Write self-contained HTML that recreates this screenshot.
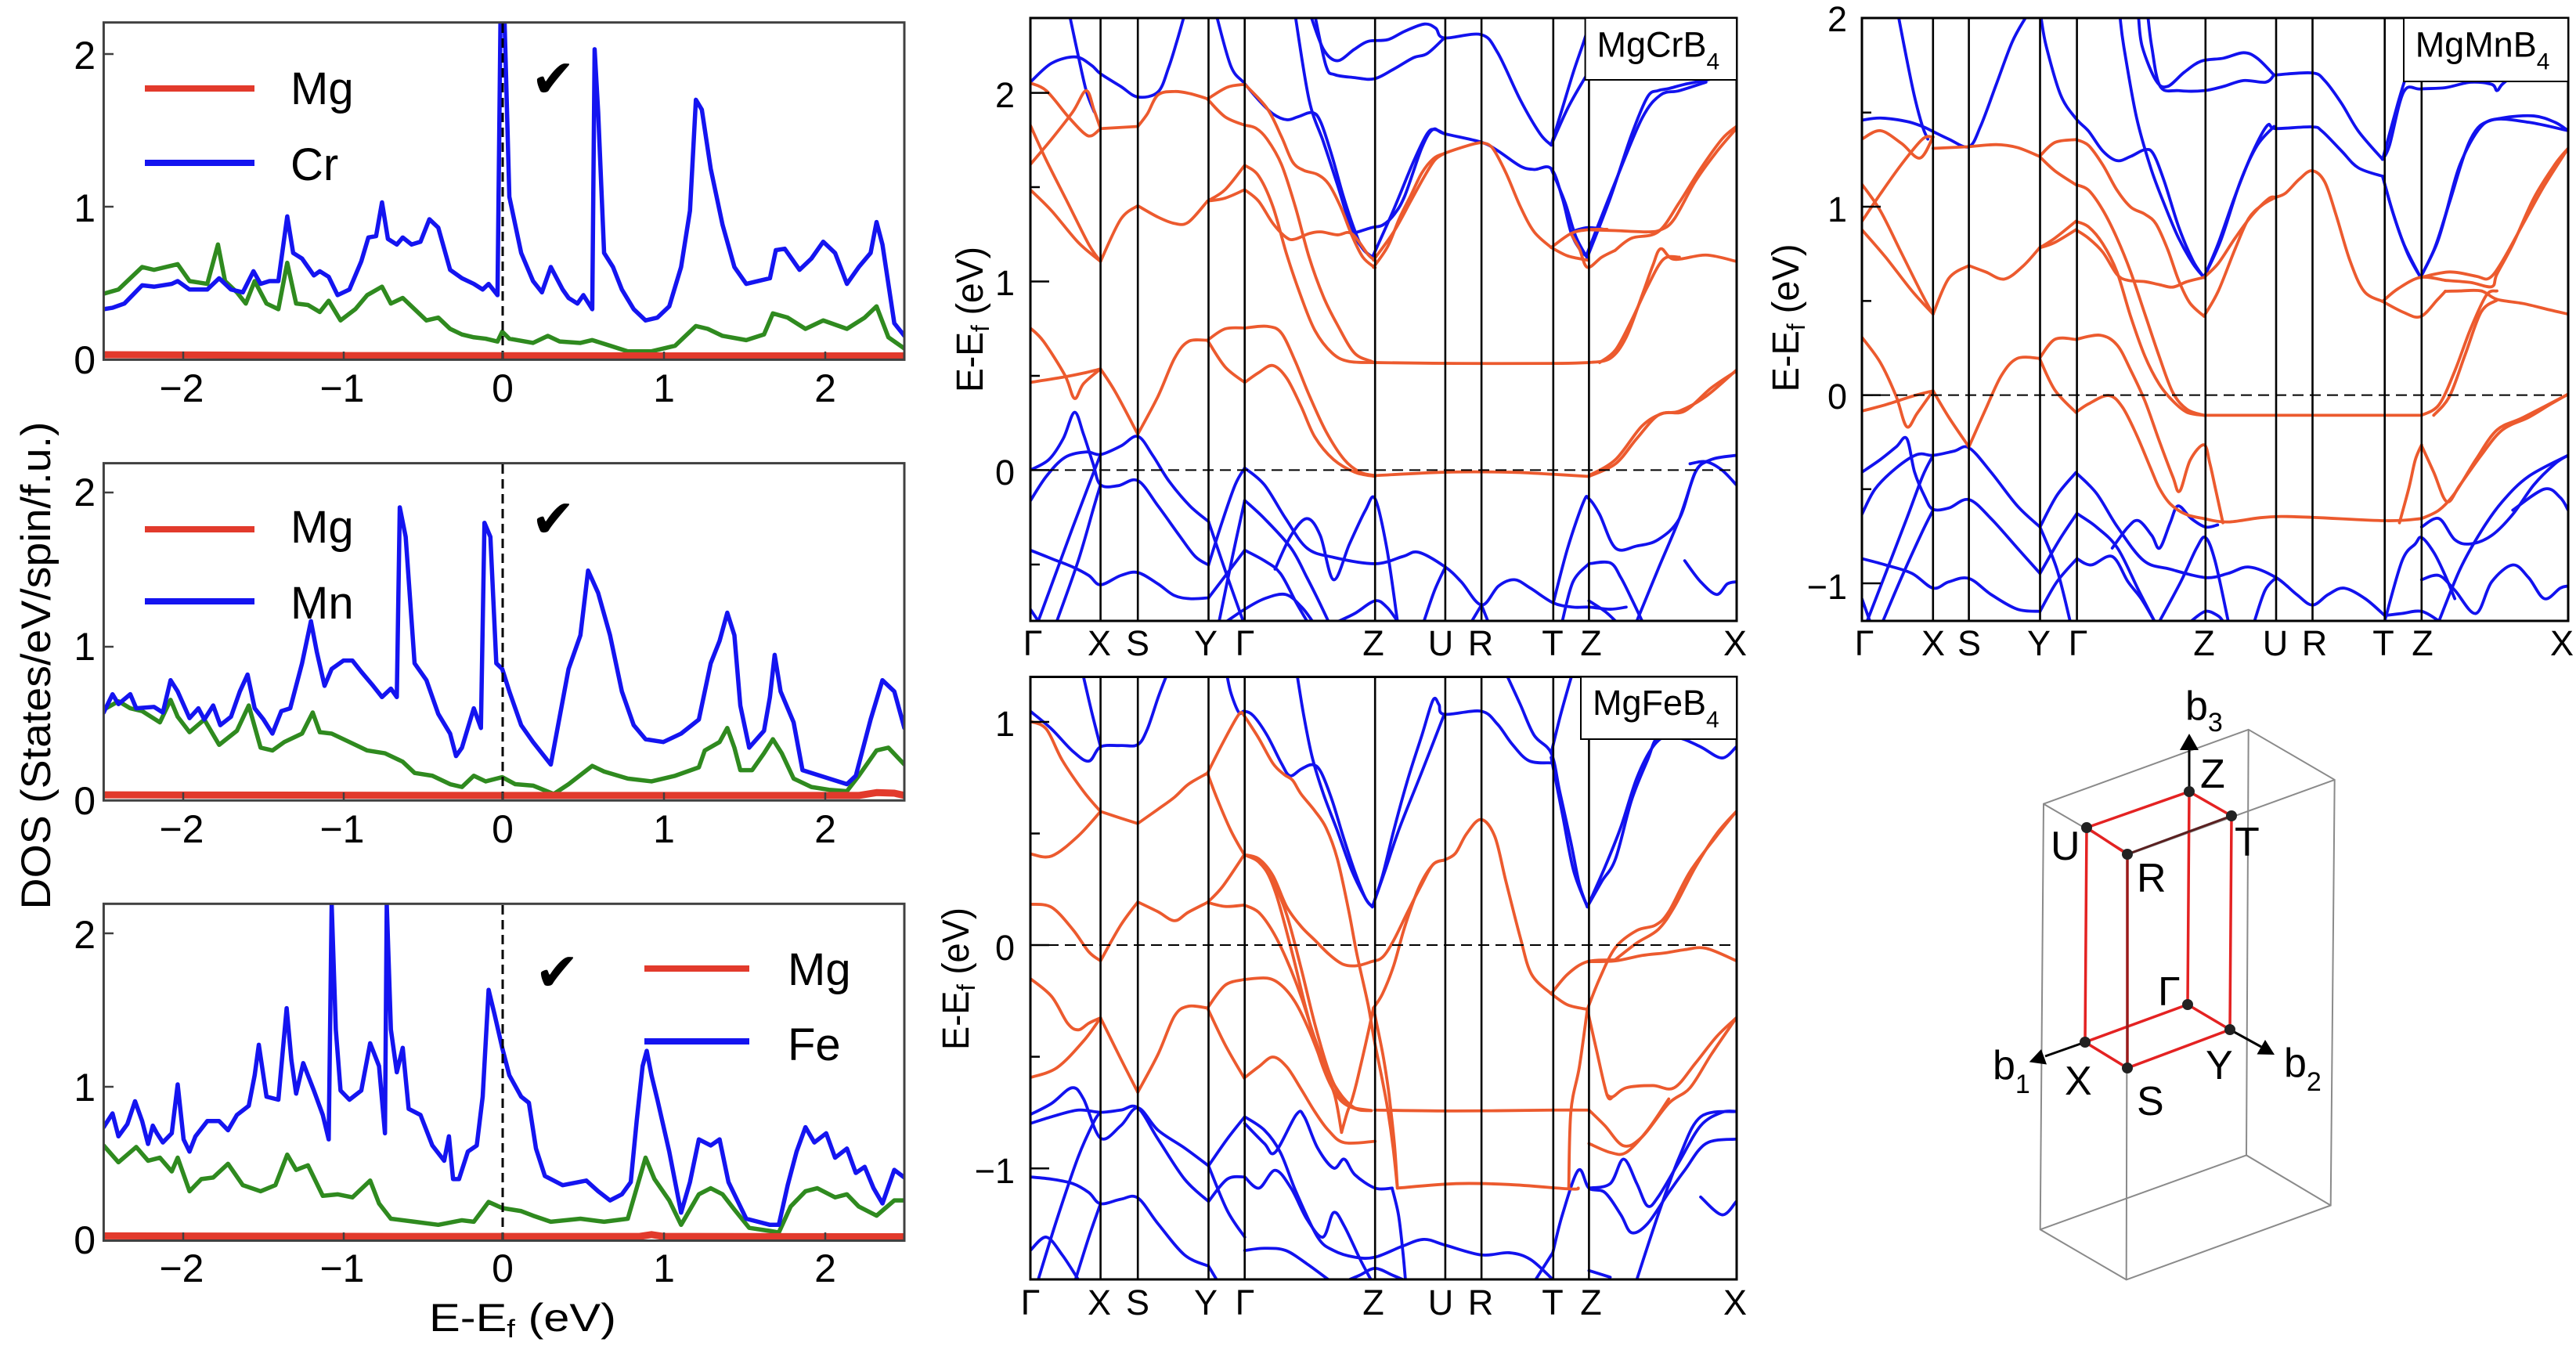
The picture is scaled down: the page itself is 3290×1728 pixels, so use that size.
<!DOCTYPE html>
<html><head><meta charset="utf-8">
<style>
html,body{margin:0;padding:0;background:#fff;width:3290px;height:1728px;overflow:hidden}
svg{position:absolute;overflow:hidden}
.z polyline,.z path{fill:none;vector-effect:non-scaling-stroke;stroke-linejoin:round;stroke-linecap:round}
text{font-family:"Liberation Sans",Arial,sans-serif;fill:#000}
</style></head><body>

<!-- DOS Cr -->
<svg class="z" style="left:0;top:0" width="1180" height="560" viewBox="0 0 1560 1560" preserveAspectRatio="none">
<defs><clipPath id="c1"><rect x="175" y="80" width="1352" height="1200"/></clipPath></defs>
<g clip-path="url(#c1)">
<polyline stroke="#2f8a1f" stroke-width="5.5" points="175,1045 200,1030 240,950 260,960 300,940 320,1000 350,1010 368,870 380,1000 400,1040 415,1080 430,1000 450,1080 470,1100 485,935 500,1080 520,1085 540,1110 555,1070 575,1140 600,1100 620,1050 645,1020 660,1080 680,1060 700,1100 720,1140 740,1130 760,1170 780,1190 800,1200 820,1205 840,1215 848,1180 860,1205 900,1220 925,1195 945,1215 980,1220 1000,1210 1030,1230 1060,1250 1100,1250 1140,1230 1175,1160 1195,1170 1220,1195 1260,1210 1290,1190 1305,1115 1330,1130 1360,1170 1390,1140 1430,1170 1460,1130 1480,1090 1500,1200 1527,1240"/>
<polyline stroke="#1414f0" stroke-width="5.5" points="175,1100 190,1095 210,1080 240,1015 260,1020 290,1010 300,1000 320,1030 350,1030 370,990 390,1030 410,1040 428,965 440,1010 455,1000 470,1000 485,770 495,900 510,920 530,980 540,965 555,985 570,1050 590,1030 610,930 622,845 635,840 645,720 655,850 670,870 680,845 695,870 710,860 725,780 740,810 760,960 780,990 800,1010 815,1030 825,1010 840,1050 845,80 852,80 860,700 870,800 880,900 900,1000 915,1040 930,950 950,1030 960,1060 975,1080 985,1050 1000,1100 1004,175 1010,400 1020,900 1035,950 1050,1030 1070,1100 1090,1140 1110,1130 1130,1090 1150,950 1165,750 1175,355 1185,390 1200,600 1220,800 1240,950 1260,1010 1280,1000 1300,990 1310,890 1325,885 1350,960 1370,920 1390,860 1410,900 1430,1010 1450,950 1470,900 1480,790 1490,870 1510,1150 1527,1195"/>
<polyline stroke="#e23a2c" stroke-width="9" points="175,1262 600,1265 1100,1266 1527,1266"/>
</g></svg>

<!-- DOS Mn -->
<svg class="z" style="left:0;top:560px" width="1180" height="560" viewBox="0 0 1560 1560" preserveAspectRatio="none">
<defs><clipPath id="c2"><rect x="175" y="88" width="1352" height="1200"/></clipPath></defs>
<g clip-path="url(#c2)">
<polyline stroke="#2f8a1f" stroke-width="5.5" points="175,965 200,935 220,960 240,970 270,1010 288,930 300,990 320,1045 345,1000 370,1090 400,1040 420,950 440,1100 460,1110 480,1080 510,1050 528,975 540,1045 560,1050 590,1080 620,1110 650,1120 680,1150 700,1190 730,1200 760,1230 780,1240 800,1200 820,1220 848,1205 870,1230 900,1235 935,1265 960,1230 1000,1165 1020,1185 1060,1210 1100,1220 1140,1200 1180,1170 1190,1110 1215,1080 1228,1030 1240,1100 1250,1180 1270,1180 1290,1120 1305,1070 1320,1120 1340,1210 1370,1240 1400,1250 1430,1255 1450,1200 1480,1110 1500,1100 1527,1160"/>
<polyline stroke="#1414f0" stroke-width="5.5" points="175,975 190,910 200,945 220,910 230,960 260,955 275,975 288,860 300,900 320,995 335,960 345,1000 360,950 372,1020 390,990 405,900 418,840 430,960 445,1000 460,1050 475,970 490,960 510,800 525,650 535,760 548,880 560,820 580,790 595,790 610,830 630,880 645,920 660,890 670,920 675,245 685,350 700,800 720,860 740,980 760,1050 770,1130 780,1100 800,960 812,1030 818,300 828,350 838,800 848,820 860,900 880,1020 900,1080 930,1160 960,820 980,700 993,470 1010,550 1030,700 1050,900 1070,1020 1090,1070 1120,1080 1150,1050 1180,1000 1200,800 1215,720 1228,620 1240,700 1250,950 1265,1100 1290,1040 1300,920 1308,770 1318,900 1340,1010 1355,1180 1400,1210 1430,1230 1445,1200 1470,1000 1490,860 1510,900 1527,1030"/>
<polyline stroke="#e23a2c" stroke-width="9" points="175,1268 800,1270 1200,1270 1450,1270 1480,1260 1510,1262 1527,1270"/>
</g></svg>

<!-- DOS Fe -->
<svg class="z" style="left:0;top:1120px" width="1180" height="608" viewBox="0 0 1560 1560" preserveAspectRatio="none">
<defs><clipPath id="c3"><rect x="175" y="88" width="1352" height="1104"/></clipPath></defs>
<g clip-path="url(#c3)">
<polyline stroke="#2f8a1f" stroke-width="5.5" points="175,880 200,935 230,885 250,930 270,920 290,965 300,920 320,1030 340,990 360,985 385,940 410,1010 440,1030 465,1010 485,910 500,960 520,945 545,1045 570,1040 595,1050 625,995 640,1070 660,1120 700,1130 740,1140 780,1125 800,1130 825,1065 848,1085 880,1095 900,1110 930,1130 980,1120 1020,1130 1060,1120 1075,1020 1090,920 1105,990 1130,1060 1150,1140 1180,1040 1200,1020 1220,1040 1240,1090 1265,1150 1300,1160 1315,1165 1335,1080 1360,1030 1380,1020 1410,1050 1430,1040 1450,1080 1480,1110 1510,1060 1527,1060"/>
<polyline stroke="#1414f0" stroke-width="5.5" points="175,820 190,775 200,850 215,810 228,735 240,800 250,875 258,815 265,840 275,870 290,840 300,680 310,860 320,900 330,850 350,800 370,800 385,830 400,780 420,750 430,650 437,550 450,720 470,730 484,430 492,600 500,710 512,610 530,700 545,780 555,860 560,88 567,500 575,700 590,730 610,700 625,545 640,620 650,840 653,88 660,500 670,640 680,560 690,760 710,780 730,880 750,930 758,850 765,990 775,990 790,900 805,880 815,720 825,370 835,450 848,560 860,650 880,720 893,740 905,890 920,980 950,1010 990,995 1010,1030 1030,1060 1050,1040 1065,1000 1075,800 1085,620 1092,570 1100,650 1110,730 1130,900 1150,1100 1165,1000 1180,860 1200,880 1215,860 1230,1000 1260,1120 1300,1140 1315,1140 1330,1010 1345,900 1360,820 1375,870 1395,840 1410,920 1430,890 1445,970 1460,950 1475,1020 1490,1070 1510,960 1527,985"/>
<polyline stroke="#e23a2c" stroke-width="9" points="175,1176 700,1178 1080,1178 1100,1172 1120,1178 1527,1179"/>
</g></svg>

<!-- MgCrB4 bands -->
<svg class="z band" style="left:1180px;top:0" width="1060" height="840" viewBox="0 0 1560 1560" preserveAspectRatio="none">
<defs><clipPath id="c4"><rect x="200" y="43" width="1327" height="1430"/></clipPath></defs>
<g clip-path="url(#c4)">
<g stroke="#1212ee" stroke-width="3.8">
<polyline points="200,195 240,150 285,135 315,155 332,175 370,205 402,230 440,218 460,160 475,100 488,43"/>
<polyline points="275,43 288,120 305,215 320,265"/>
<polyline points="200,1115 235,1090 262,1040 283,978 300,1030 318,1100 332,1150 365,1152 402,1140 440,1200 480,1270 510,1320 535,1340"/>
<polyline points="200,1188 230,1130 265,1085 305,1072 332,1078 370,1058 402,1035 430,1080 460,1140 500,1200 535,1237"/>
<polyline points="200,1305 240,1325 280,1345 310,1365 332,1387 370,1365 402,1358 440,1385 470,1412 500,1420 535,1418"/>
<polyline points="215,1473 245,1370 280,1250 310,1150 332,1078"/>
<polyline points="250,1473 290,1330 320,1200 332,1150"/>
<polyline points="200,1445 215,1473"/>
<polyline points="535,1340 560,1240 585,1150 603,1110"/>
<polyline points="535,1237 560,1330 585,1420 600,1473"/>
<polyline points="555,1473 580,1320 603,1187"/>
<polyline points="535,1418 570,1360 603,1305"/>
<polyline points="570,1473 603,1445 640,1420 680,1410 710,1440 730,1473"/>
<polyline points="603,1110 640,1150 680,1230 720,1300 770,1322 848,1337 900,1320 930,1310 980,1345 1010,1380 1048,1435 1080,1390 1110,1375 1140,1395 1183,1430 1220,1440 1250,1440 1290,1445 1320,1440"/>
<polyline points="603,1187 640,1230 690,1300 720,1370 740,1420 760,1473"/>
<polyline points="603,1305 640,1330 670,1360 700,1430 720,1473"/>
<polyline points="660,1350 690,1270 720,1230 745,1270 770,1375 800,1290 830,1210 848,1183 870,1300 890,1473"/>
<polyline points="780,1473 810,1455 848,1425 870,1440 890,1473"/>
<polyline points="940,1473 960,1400 980,1345"/>
<polyline points="1048,1435 1060,1473"/>
<polyline points="1048,1435 1030,1473"/>
<polyline points="550,37 577,157 602,197 629,237 656,270 682,284 703,277 730,267 746,290 767,370 788,464 809,544 825,590 843,610"/>
<polyline points="698,37 724,237 751,337 777,437 804,544 825,590 843,610"/>
<polyline points="735,37 756,157 772,177 809,184 846,187 883,164 920,137 946,127 978,90"/>
<polyline points="727,37 751,117 777,144 809,117 835,98 872,94 904,74 941,57 962,67 978,90 1047,82 1078,124 1121,237 1158,317 1179,344"/>
<polyline points="806,554 841,540 862,534 883,510 904,464 936,350 957,307 978,317 1047,337 1078,357 1121,394 1147,402 1179,400 1200,470 1216,550 1232,590 1247,610"/>
<polyline points="843,610 883,497 920,384 946,317 960,307 978,317"/>
<polyline points="1179,344 1200,257 1221,170 1240,100 1250,60"/>
<polyline points="1179,344 1210,257 1240,190 1260,150"/>
<polyline points="1179,400 1205,480 1225,560 1247,612"/>
<polyline points="1216,550 1247,540 1279,544"/>
<polyline points="1247,610 1290,470 1330,320 1360,230 1380,215 1400,210 1430,200 1470,190 1527,175"/>
<polyline points="1247,600 1300,430 1350,280 1385,225 1420,215 1470,195"/>
<polyline points="1183,1430 1210,1300 1240,1190 1250,1183 1270,1220 1300,1300 1340,1295 1380,1280 1420,1230 1450,1120 1480,1090 1527,1080"/>
<polyline points="1250,1337 1290,1335 1310,1370 1330,1420 1350,1473"/>
<polyline points="1340,1473 1380,1350 1420,1230 1450,1120 1470,1095"/>
<polyline points="1440,1100 1470,1095 1500,1115 1527,1150"/>
<polyline points="1430,1330 1460,1380 1490,1410 1510,1385 1527,1380"/>
<polyline points="1250,1425 1280,1450 1300,1473"/>
<polyline points="1200,1473 1220,1380 1250,1337"/>
</g>
<g stroke="#ec5a2e" stroke-width="3.8">
<polyline points="200,197 230,215 270,275 300,315 315,322 332,305"/>
<polyline points="200,390 240,330 280,265 305,215 320,262 332,305"/>
<polyline points="200,297 230,380 270,480 310,580 332,620"/>
<polyline points="200,450 240,500 290,575 332,620"/>
<polyline points="200,778 225,810 265,890 283,945 300,910 332,875"/>
<polyline points="200,907 260,895 300,885 332,875"/>
<polyline points="332,305 402,300"/>
<polyline points="332,620 370,520 402,488"/>
<polyline points="332,875 360,930 402,1030"/>
<polyline points="402,300 420,270 440,225 471,217 500,222 535,235"/>
<polyline points="402,488 440,515 471,530 497,527 533,477"/>
<polyline points="402,1030 440,940 471,850 497,810 533,807"/>
<polyline points="533,235 570,207 603,200"/>
<polyline points="533,235 566,277 603,297"/>
<polyline points="533,477 566,450 603,392"/>
<polyline points="533,477 566,470 603,450"/>
<polyline points="533,807 566,780 603,778"/>
<polyline points="533,807 566,870 603,907"/>
<polyline points="603,200 645,257 672,324 693,384 714,404 740,414 761,437 783,490 804,557 825,610 848,635"/>
<polyline points="603,297 624,304 645,330 672,390 698,490 724,610 751,704 777,770 809,837 841,857 848,860"/>
<polyline points="603,392 629,417 656,490 682,604 709,704 735,784 767,837 798,857 848,860"/>
<polyline points="603,450 629,477 656,530 682,564 698,567 724,554 746,550 777,557 804,554 835,604 848,617"/>
<polyline points="603,778 645,774 672,790 698,857 724,937 756,1024 790,1090 820,1120 848,1128"/>
<polyline points="603,907 629,884 656,867 682,897 709,964 735,1037 770,1090 810,1120 848,1130"/>
<polyline points="848,860 1000,862 1183,862 1250,860"/>
<polyline points="848,1128 980,1120 1100,1120 1183,1125 1250,1130"/>
<polyline points="845,634 872,584 894,517 915,464 936,410 957,377 978,364 1026,344 1047,338"/>
<polyline points="845,617 883,550 915,477 940,420 960,380 978,364"/>
<polyline points="1047,338 1068,350 1094,410 1121,490 1147,550 1179,587"/>
<polyline points="1179,587 1210,607 1247,617"/>
<polyline points="1179,587 1216,554 1247,545 1284,544"/>
<polyline points="1216,554 1232,590 1247,634 1274,610 1299,594"/>
<polyline points="1250,545 1300,547 1360,550 1385,545 1410,520 1450,430 1490,360 1527,305"/>
<polyline points="1299,594 1330,565 1380,550 1420,480 1460,400 1500,330 1527,300"/>
<polyline points="1250,860 1290,850 1320,800 1350,700 1370,630 1385,590 1410,615 1470,605 1527,620"/>
<polyline points="1270,860 1300,830 1330,760 1360,680 1390,615 1420,610"/>
<polyline points="1250,1128 1300,1090 1350,1010 1390,980 1430,975 1480,920 1527,880"/>
<polyline points="1250,1130 1300,1100 1340,1040 1380,985 1420,975 1470,940 1527,878"/>
</g></g></svg>

<!-- MgFeB4 bands -->
<svg class="z band" style="left:1180px;top:840px" width="1060" height="888" viewBox="0 0 1560 1560" preserveAspectRatio="none">
<defs><clipPath id="c5"><rect x="200" y="43" width="1327" height="1352"/></clipPath></defs>
<g clip-path="url(#c5)">
<g stroke="#1212ee" stroke-width="3.8">
<polyline points="200,120 240,160 280,210 310,232 332,200 370,197 402,195 420,160 440,90 455,43"/>
<polyline points="300,43 315,120 332,200"/>
<polyline points="569,35 577,79 592,123 602,120 619,130 645,174 672,237 688,265 709,250 730,240 746,256 767,319 788,401 809,477 830,540 843,559"/>
<polyline points="701,35 714,130 730,224 751,306 777,388 804,477 830,540 843,559"/>
<polyline points="843,559 862,489 883,388 909,275 936,174 957,95 968,105 978,127 1047,120 1078,149 1105,193 1137,231 1179,236"/>
<polyline points="843,559 867,477 894,382 936,256 978,127"/>
<polyline points="1094,35 1121,105 1147,174 1179,214 1195,300 1216,414 1232,508 1247,559"/>
<polyline points="1179,224 1200,350 1221,477 1247,559"/>
<polyline points="1179,214 1195,136 1211,67 1219,35"/>
<polyline points="1247,559 1274,502 1300,451 1330,320 1360,230 1380,178 1420,180 1460,200 1500,225 1527,200"/>
<polyline points="1247,559 1280,470 1310,380 1340,270 1370,200 1400,172 1440,165"/>
<polyline points="200,1025 240,1000 278,965 300,990 332,1078 370,1050 402,1010 440,1060 490,1100 535,1140"/>
<polyline points="200,1045 240,1030 290,1015 332,1020 370,1015 402,1010 440,1080 490,1170 535,1220"/>
<polyline points="200,1165 240,1170 280,1180 310,1200 332,1225 370,1215 402,1212 440,1270 490,1340 535,1365"/>
<polyline points="200,1330 230,1300 260,1340 290,1395"/>
<polyline points="215,1395 250,1260 290,1120 320,1040 332,1020"/>
<polyline points="285,1395 310,1300 332,1225"/>
<polyline points="535,1140 570,1080 603,1030"/>
<polyline points="535,1140 570,1240 603,1300"/>
<polyline points="535,1220 570,1170 603,1165"/>
<polyline points="535,1365 550,1395"/>
<polyline points="603,1030 640,1060 670,1110 700,1200 740,1300 770,1330 810,1345 848,1345 900,1320 940,1305 980,1318 1048,1340 1100,1335 1140,1350 1182,1395"/>
<polyline points="603,1045 640,1090 660,1110 700,1025 715,1030 740,1100 770,1145 790,1125 810,1160 848,1190 880,1190"/>
<polyline points="603,1165 630,1190 660,1150 690,1190 720,1260 750,1300 770,1245 790,1275 820,1350 840,1395"/>
<polyline points="603,1330 640,1325 680,1330 720,1360 760,1395"/>
<polyline points="800,1395 820,1385 848,1370 880,1385 900,1395"/>
<polyline points="905,1395 900,1330 892,1250 880,1190"/>
<polyline points="1182,1335 1200,1250 1230,1150 1250,1190 1280,1200 1310,1250 1330,1290 1360,1270 1400,1200 1430,1150 1470,1090 1527,1080"/>
<polyline points="1250,1190 1290,1180 1315,1125 1340,1180 1360,1230 1380,1210 1420,1130 1460,1050 1500,1020 1527,1018"/>
<polyline points="1340,1395 1380,1250 1420,1120 1460,1030 1527,1018"/>
<polyline points="1250,1375 1290,1390"/>
<polyline points="1460,1210 1500,1250 1527,1220"/>
<polyline points="1150,1395 1182,1335"/>
</g>
<g stroke="#ec5a2e" stroke-width="3.8">
<polyline points="200,143 230,160 260,230 300,300 332,345"/>
<polyline points="200,440 240,445 290,400 332,345"/>
<polyline points="200,553 240,560 280,610 310,660 332,680"/>
<polyline points="200,720 240,760 270,820 290,835 310,820 332,808"/>
<polyline points="200,942 250,920 300,860 332,808"/>
<polyline points="332,345 370,360 402,372"/>
<polyline points="332,680 370,600 402,548"/>
<polyline points="332,808 370,900 402,975"/>
<polyline points="402,372 440,340 471,313 497,284 533,259"/>
<polyline points="402,548 440,570 471,590 497,571 533,549"/>
<polyline points="402,975 440,890 471,804 497,782 533,786"/>
<polyline points="533,259 561,193 592,127 602,130"/>
<polyline points="533,259 550,313 577,388 602,442"/>
<polyline points="533,549 561,514 602,442"/>
<polyline points="533,549 566,558 602,555"/>
<polyline points="533,786 566,735 602,722"/>
<polyline points="533,786 566,868 602,943"/>
<polyline points="602,130 629,180 656,237 677,262 693,275 709,306 735,344 756,382 777,451 798,565 814,666 835,779 846,855 862,950 872,1015 882,1100 890,1190"/>
<polyline points="602,442 629,451 656,489 682,559 709,603 735,634 762,666 788,688 814,691 841,682 862,672 883,634 909,571 936,508 957,464 978,454"/>
<polyline points="602,442 629,458 656,502 682,577 709,697 735,823 762,931 788,994 814,1013 841,1016"/>
<polyline points="602,442 635,464 661,527 693,666 719,792 746,905 772,975 798,1006 841,1016"/>
<polyline points="602,555 629,571 656,615 682,678 709,760 735,855 762,937 788,987 814,1013 841,1016"/>
<polyline points="602,722 645,719 672,735 698,773 724,836 751,918 772,981 785,1065"/>
<polyline points="785,1065 796,1019 804,994 814,950 830,868 845,786"/>
<polyline points="602,943 629,918 656,896 682,918 709,968 735,1019 760,1060 790,1088 848,1085"/>
<polyline points="845,786 862,754 883,691 904,603 931,514 957,464 978,454"/>
<polyline points="845,786 862,886 872,960 878,1019 885,1100 890,1190"/>
<polyline points="978,454 999,439 1020,395 1047,363 1073,401 1094,502 1121,628 1142,710 1179,754"/>
<polyline points="848,1015 1000,1017 1182,1015 1250,1015"/>
<polyline points="890,1190 1000,1180 1100,1182 1215,1192 1230,1190"/>
<polyline points="1179,754 1210,779 1247,789"/>
<polyline points="1179,754 1210,710 1247,682 1299,678"/>
<polyline points="1212,1190 1216,1019 1232,918 1247,789"/>
<polyline points="1247,789 1263,874 1284,981 1295,985"/>
<polyline points="1247,682 1300,680 1350,668 1395,662 1430,655 1470,652 1527,680"/>
<polyline points="1247,789 1270,720 1300,650 1340,612 1375,600 1400,570 1440,480 1490,400 1527,345"/>
<polyline points="1299,678 1340,640 1380,610 1410,560 1450,470 1490,395 1527,345"/>
<polyline points="1284,981 1295,985 1320,965 1370,960 1410,965 1450,910 1490,850 1527,808"/>
<polyline points="1250,1015 1280,1050 1315,1095 1350,1075 1400,1000 1440,965 1480,890 1527,808"/>
<polyline points="1250,1090 1290,1110 1320,1110 1360,1060 1400,990"/>
</g></g></svg>

<!-- MgMnB4 bands -->
<svg class="z band" style="left:2240px;top:0" width="1050" height="840" viewBox="0 0 1560 1560" preserveAspectRatio="none">
<defs><clipPath id="c6"><rect x="205" y="43" width="1340" height="1430"/></clipPath></defs>
<g clip-path="url(#c6)">
<g stroke="#1212ee" stroke-width="3.8">
<polyline points="205,285 240,280 290,288 320,300 340,312 370,330 408,348 430,300 460,200 490,100 515,43"/>
<polyline points="275,43 290,140 305,230 320,300 330,330"/>
<polyline points="545,43 555,111 582,225 611,281 635,311 662,358 689,381 715,371 742,355 758,365 779,431 806,538 833,618 854,658"/>
<polyline points="695,43 702,111 726,278 753,398 779,485 806,565 833,625 854,658"/>
<polyline points="730,43 737,111 763,191 785,205 817,171 849,145 891,138 929,125 955,138 987,178"/>
<polyline points="748,43 755,111 771,205 806,215 854,215 891,205 929,191 971,195 987,178"/>
<polyline points="987,178 1059,173 1083,191 1115,245 1147,311 1193,378"/>
<polyline points="854,658 881,578 913,465 945,365 974,298 990,305 1059,301 1078,311 1115,358 1147,398 1193,418"/>
<polyline points="854,658 886,570 923,431 955,345 987,300"/>
<polyline points="1193,378 1206,345 1233,218 1265,211 1312,208 1360,195 1400,200 1410,215 1420,200 1440,180"/>
<polyline points="1193,378 1222,245 1238,178 1255,100"/>
<polyline points="1193,418 1211,498 1233,578 1265,658"/>
<polyline points="1193,418 1214,510 1240,600 1265,658"/>
<polyline points="1265,658 1291,591 1312,511 1340,390 1380,300 1420,280 1480,275 1520,290 1545,310"/>
<polyline points="1265,658 1296,578 1320,480 1360,330 1400,285 1470,290 1545,310"/>
<polyline points="205,1120 240,1090 270,1060 290,1040 305,1120 325,1180 340,1208 370,1205 408,1185 450,1230 500,1300 543,1360"/>
<polyline points="205,1220 230,1160 270,1110 310,1078 340,1080 380,1070 408,1062 450,1120 500,1200 543,1250"/>
<polyline points="205,1325 250,1340 300,1360 340,1395 370,1380 408,1372 450,1410 500,1445 543,1450"/>
<polyline points="215,1473 250,1360 290,1230 320,1130 340,1080"/>
<polyline points="245,1473 280,1370 320,1260 340,1210"/>
<polyline points="205,1420 220,1473"/>
<polyline points="543,1250 575,1175 611,1121"/>
<polyline points="543,1360 580,1280 613,1218"/>
<polyline points="543,1250 575,1350 600,1473"/>
<polyline points="543,1450 575,1380 613,1325"/>
<polyline points="611,1121 650,1170 690,1250 740,1330 790,1350 857,1370 900,1360 940,1345 991,1370 1030,1410 1060,1435 1090,1410 1120,1395 1160,1420 1197,1460"/>
<polyline points="613,1218 650,1250 690,1300 730,1400 760,1473"/>
<polyline points="613,1325 640,1340 680,1320 710,1380 735,1420 760,1473"/>
<polyline points="680,1300 710,1250 730,1235 755,1270 770,1300 790,1240 805,1200 830,1230 857,1250 880,1245"/>
<polyline points="770,1473 810,1380 840,1300 857,1275 875,1330 900,1473"/>
<polyline points="830,1473 857,1450 880,1460 890,1473"/>
<polyline points="950,1473 970,1400 991,1370"/>
<polyline points="1197,1473 1230,1330 1255,1290 1267,1275 1290,1310 1310,1360 1330,1420"/>
<polyline points="1267,1250 1300,1230 1330,1280 1360,1290 1400,1270 1440,1220 1480,1150 1520,1100 1545,1080"/>
<polyline points="1300,1473 1340,1350 1380,1260 1420,1190 1470,1130 1545,1080"/>
<polyline points="1440,1210 1500,1160 1530,1180 1545,1210"/>
<polyline points="1267,1375 1300,1365 1330,1400 1370,1455 1400,1380 1440,1340 1470,1370 1500,1420 1530,1395 1545,1390"/>
<polyline points="1197,1460 1230,1455 1267,1450 1300,1473"/>
</g>
<g stroke="#ec5a2e" stroke-width="3.8">
<polyline points="205,330 240,310 280,340 315,375 340,325"/>
<polyline points="205,525 240,460 280,390 320,330 340,325"/>
<polyline points="205,437 240,500 280,600 320,700 340,745"/>
<polyline points="205,545 250,610 300,690 340,745"/>
<polyline points="205,800 240,860 270,940 290,1012 310,980 340,927"/>
<polyline points="205,975 250,960 300,940 340,927"/>
<polyline points="340,352 408,348"/>
<polyline points="340,745 370,660 408,630"/>
<polyline points="340,927 370,990 408,1060"/>
<polyline points="408,348 460,343 500,350 542,371"/>
<polyline points="408,630 440,645 475,662 510,632 542,588"/>
<polyline points="408,1060 440,970 470,890 500,850 542,850"/>
<polyline points="542,371 571,338 611,331"/>
<polyline points="542,371 571,405 611,438"/>
<polyline points="542,588 571,565 611,525"/>
<polyline points="542,588 571,575 611,545"/>
<polyline points="542,850 571,805 611,805"/>
<polyline points="542,850 571,925 611,978"/>
<polyline points="611,331 635,345 662,391 689,451 715,491 742,508 763,531 785,591 806,665 827,718 854,750"/>
<polyline points="611,438 635,451 662,498 689,565 715,645 742,745 769,845 795,931 822,971 854,985"/>
<polyline points="611,525 635,538 662,578 689,645 715,751 742,845 769,911 795,951 822,978 854,985"/>
<polyline points="611,545 635,565 662,598 689,651 710,665 742,668 769,675 795,681 822,668 854,658"/>
<polyline points="611,805 657,795 689,818 715,878 742,951 769,1045 795,1131 808,1165 828,1091 854,1055 865,1098 876,1160 890,1240"/>
<polyline points="611,978 635,958 673,938 699,965 726,1031 753,1111 769,1157 790,1195 820,1220 854,1230"/>
<polyline points="854,658 881,625 913,565 945,511 977,471 990,468"/>
<polyline points="854,750 881,691 913,591 939,518 966,485 990,468"/>
<polyline points="990,468 1009,458 1035,425 1059,405 1083,431 1105,511 1131,618 1158,691 1193,715"/>
<polyline points="1193,715 1222,685 1265,658 1312,665"/>
<polyline points="1193,715 1233,741 1265,751 1297,711 1312,691"/>
<polyline points="854,985 1200,985 1267,985"/>
<polyline points="854,1230 900,1238 1000,1225 1197,1235 1267,1230"/>
<polyline points="1312,665 1360,670 1400,680 1410,650 1440,580 1480,470 1520,390 1545,352"/>
<polyline points="1265,658 1320,645 1370,655 1395,660 1420,620 1460,530 1500,440 1545,352"/>
<polyline points="1312,691 1340,690 1380,690 1410,710 1460,720 1510,735 1545,745"/>
<polyline points="1267,985 1300,960 1330,880 1360,780 1390,700 1410,690"/>
<polyline points="1290,985 1320,940 1350,840 1380,740 1410,712"/>
<polyline points="1267,1057 1290,1120 1315,1190 1340,1150 1380,1080 1420,1020 1470,990 1510,960 1545,935"/>
<polyline points="1267,1230 1300,1210 1330,1170 1370,1090 1410,1020 1460,990 1545,935"/>
<polyline points="1225,1240 1243,1157 1255,1091 1267,1055"/>
</g></g></svg>

<!-- Overlay: frames, ticks, labels, BZ -->
<svg style="left:0;top:0" width="3290" height="1728" viewBox="0 0 3290 1728">
<g fill="none" stroke="#404040" stroke-width="3">
<rect x="132.4" y="28.7" width="1022.6" height="430.7"/>
<rect x="132.4" y="591.6" width="1022.6" height="430.7"/>
<rect x="132.4" y="1154.3" width="1022.6" height="430.2"/>
</g>
<g stroke="#000" stroke-width="3" stroke-dasharray="12 7">
<line x1="642" y1="30" x2="642" y2="458"/>
<line x1="642" y1="593" x2="642" y2="1021"/>
<line x1="642" y1="1156" x2="642" y2="1583"/>
</g>
<g stroke="#404040" stroke-width="2.5">
<path d="M234 459v-10M439 459v-10M642 459v-10M848 459v-10M1054 459v-10M132 69h13M132 264h13"/>
<path d="M234 1022v-10M439 1022v-10M642 1022v-10M848 1022v-10M1054 1022v-10M132 629h13M132 826h13"/>
<path d="M234 1584v-10M439 1584v-10M642 1584v-10M848 1584v-10M1054 1584v-10M132 1192h13M132 1388h13"/>
</g>
<g stroke-width="8">
<line x1="185" y1="113" x2="325" y2="113" stroke="#e23a2c"/>
<line x1="185" y1="208" x2="325" y2="208" stroke="#1414f0"/>
<line x1="185" y1="676" x2="325" y2="676" stroke="#e23a2c"/>
<line x1="185" y1="768" x2="325" y2="768" stroke="#1414f0"/>
<line x1="823" y1="1237" x2="957" y2="1237" stroke="#e23a2c"/>
<line x1="823" y1="1330" x2="957" y2="1330" stroke="#1414f0"/>
</g>
<g font-size="58">
<text x="371" y="133">Mg</text><text x="371" y="230">Cr</text>
<text x="371" y="693">Mg</text><text x="371" y="790">Mn</text>
<text x="1006" y="1258">Mg</text><text x="1006" y="1354">Fe</text>
</g>
<g font-size="68">
<text x="678" y="124" style="font-family:'DejaVu Sans',sans-serif">✔</text>
<text x="678" y="686" style="font-family:'DejaVu Sans',sans-serif">✔</text>
<text x="683" y="1265" style="font-family:'DejaVu Sans',sans-serif">✔</text>
</g>
<g font-size="50" text-anchor="end">
<text x="122" y="88">2</text><text x="122" y="283">1</text><text x="122" y="477">0</text>
<text x="122" y="646">2</text><text x="122" y="843">1</text><text x="122" y="1040">0</text>
<text x="122" y="1211">2</text><text x="122" y="1406">1</text><text x="122" y="1601">0</text>
</g>
<g font-size="50" text-anchor="middle">
<text x="232" y="513">−2</text><text x="437" y="513">−1</text><text x="642" y="513">0</text><text x="848" y="513">1</text><text x="1054" y="513">2</text>
<text x="232" y="1076">−2</text><text x="437" y="1076">−1</text><text x="642" y="1076">0</text><text x="848" y="1076">1</text><text x="1054" y="1076">2</text>
<text x="232" y="1637">−2</text><text x="437" y="1637">−1</text><text x="642" y="1637">0</text><text x="848" y="1637">1</text><text x="1054" y="1637">2</text>
</g>
<text x="548" y="1700" font-size="50" textLength="239" lengthAdjust="spacingAndGlyphs">E-E<tspan font-size="32" dy="8">f</tspan><tspan dy="-8"> (eV)</tspan></text>
<text transform="translate(64,850) rotate(-90)" text-anchor="middle" font-size="53" textLength="623" lengthAdjust="spacingAndGlyphs">DOS (States/eV/spin/f.u.)</text>

<!-- MgCrB4 frame -->
<g stroke="#000" fill="none">
<rect x="1316" y="23" width="902" height="770" stroke-width="3"/>
<path stroke-width="2.6" d="M1405.6 23V793M1453.2 23V793M1543.5 23V793M1589.7 23V793M1756.2 23V793M1845.9 23V793M1892.1 23V793M1983.8 23V793M2029.4 23V793"/>
<path stroke-width="2.5" d="M1316 118.6h24M1316 359.5h24M1316 600.4h24M1316 239h12M1316 480h12M1316 721h12"/>
<line x1="1316" y1="600.4" x2="2218" y2="600.4" stroke-width="2" stroke-dasharray="14 8"/>
<rect x="2024.6" y="23" width="193.4" height="79" fill="#fff" stroke-width="2"/>
</g>
<text x="2039.5" y="72.7" font-size="45">MgCrB<tspan font-size="30" dy="16">4</tspan></text>
<g font-size="45" text-anchor="end"><text x="1296" y="137">2</text><text x="1296" y="377">1</text><text x="1296" y="619">0</text></g>
<g font-size="45" text-anchor="middle">
<text x="1319" y="837">Γ</text><text x="1404" y="837">X</text><text x="1453" y="837">S</text><text x="1540" y="837">Y</text><text x="1590" y="837">Γ</text><text x="1754" y="837">Z</text><text x="1840" y="837">U</text><text x="1891" y="837">R</text><text x="1983" y="837">T</text><text x="2032" y="837">Z</text><text x="2216" y="837">X</text>
</g>
<text transform="translate(1255,408) rotate(-90)" text-anchor="middle" font-size="48" textLength="186" lengthAdjust="spacingAndGlyphs">E-E<tspan font-size="32" dy="8">f</tspan><tspan dy="-8"> (eV)</tspan></text>

<!-- MgFeB4 frame -->
<g stroke="#000" fill="none">
<rect x="1316" y="864.5" width="902" height="769.5" stroke-width="3"/>
<path stroke-width="2.6" d="M1405.6 864.5V1634M1453.2 864.5V1634M1543.5 864.5V1634M1589.7 864.5V1634M1756.2 864.5V1634M1845.9 864.5V1634M1892.1 864.5V1634M1983.8 864.5V1634M2029.4 864.5V1634"/>
<path stroke-width="2.5" d="M1316 922h24M1316 1207h24M1316 1492.2h24M1316 1064.5h12M1316 1349.6h12"/>
<line x1="1316" y1="1207" x2="2218" y2="1207" stroke-width="2" stroke-dasharray="14 8"/>
<rect x="2019" y="864.5" width="199" height="79.5" fill="#fff" stroke-width="2"/>
</g>
<text x="2034" y="913" font-size="45">MgFeB<tspan font-size="30" dy="16">4</tspan></text>
<g font-size="45" text-anchor="end"><text x="1296" y="940">1</text><text x="1296" y="1226">0</text><text x="1296" y="1511">−1</text></g>
<g font-size="45" text-anchor="middle">
<text x="1316" y="1679">Γ</text><text x="1404" y="1679">X</text><text x="1453" y="1679">S</text><text x="1540" y="1679">Y</text><text x="1590" y="1679">Γ</text><text x="1754" y="1679">Z</text><text x="1840" y="1679">U</text><text x="1891" y="1679">R</text><text x="1983" y="1679">T</text><text x="2032" y="1679">Z</text><text x="2216" y="1679">X</text>
</g>
<text transform="translate(1237,1250) rotate(-90)" text-anchor="middle" font-size="48" textLength="182" lengthAdjust="spacingAndGlyphs">E-E<tspan font-size="32" dy="8">f</tspan><tspan dy="-8"> (eV)</tspan></text>

<!-- MgMnB4 frame -->
<g stroke="#000" fill="none">
<rect x="2378" y="23" width="902" height="770" stroke-width="3"/>
<path stroke-width="2.6" d="M2468.8 23V793M2514.6 23V793M2605.5 23V793M2652.6 23V793M2816.8 23V793M2907 23V793M2953.5 23V793M3045.7 23V793M3092.8 23V793"/>
<path stroke-width="2.5" d="M2378 264h24M2378 504.6h24M2378 745h24M2378 143.8h12M2378 384.4h12M2378 624.8h12"/>
<line x1="2378" y1="504.6" x2="3280" y2="504.6" stroke-width="2" stroke-dasharray="14 8"/>
<rect x="3070" y="23" width="210" height="81" fill="#fff" stroke-width="2"/>
</g>
<text x="3084.7" y="72.7" font-size="45">MgMnB<tspan font-size="30" dy="16">4</tspan></text>
<g font-size="45" text-anchor="end"><text x="2359" y="40">2</text><text x="2359" y="283">1</text><text x="2359" y="522">0</text><text x="2359" y="765">−1</text></g>
<g font-size="45" text-anchor="middle">
<text x="2381" y="837">Γ</text><text x="2469" y="837">X</text><text x="2515" y="837">S</text><text x="2604" y="837">Y</text><text x="2654" y="837">Γ</text><text x="2815" y="837">Z</text><text x="2906" y="837">U</text><text x="2956" y="837">R</text><text x="3044" y="837">T</text><text x="3094" y="837">Z</text><text x="3272" y="837">X</text>
</g>
<text transform="translate(2297,406) rotate(-90)" text-anchor="middle" font-size="48" textLength="189" lengthAdjust="spacingAndGlyphs">E-E<tspan font-size="32" dy="8">f</tspan><tspan dy="-8"> (eV)</tspan></text>

<!-- Brillouin zone -->
<g stroke="#8a8a8a" stroke-width="2" fill="none">
<path d="M2610 1026.7L2871.7 931.8L2981.7 995.9L2976.7 1539.5L2715.7 1634.4L2605.7 1570.3Z"/>
<path d="M2871.7 931.8L2869 1475.4L2976.7 1539.5M2869 1475.4L2605.7 1570.3"/>
<path d="M2610 1026.7L2720 1090.8L2981.7 995.9M2717 1091L2715.7 1634.4"/>
</g>
<g stroke="#e42222" stroke-width="3.5" fill="none">
<path d="M2796 1011L2665 1057L2717 1091M2796 1011L2850 1042M2796 1011L2794 1283M2850 1042L2848 1315M2665 1057L2663 1331M2794 1283L2848 1315M2794 1283L2663 1331M2663 1331L2717 1364L2848 1315"/>
</g>
<path d="M2717 1091L2850 1042" stroke="#5a2020" stroke-width="3" fill="none"/>
<path d="M2717 1091L2717 1364" stroke="#9a1a1a" stroke-width="3.5" fill="none"/>
<g stroke="#000" stroke-width="3" fill="none">
<path d="M2796 1011V955M2663 1331L2612 1349M2848 1315L2888 1337"/>
</g>
<g fill="#000">
<path d="M2796 937L2784 958L2808 958Z"/>
<path d="M2591.7 1356.4L2614 1359.5L2607 1340Z"/>
<path d="M2905 1347L2882.5 1346.5L2893 1328Z"/>
</g>
<g fill="#222">
<circle cx="2796" cy="1011" r="7"/><circle cx="2850" cy="1042" r="7"/><circle cx="2665" cy="1057" r="7"/><circle cx="2717" cy="1091" r="7"/>
<circle cx="2794" cy="1283" r="7"/><circle cx="2848" cy="1315" r="7"/><circle cx="2663" cy="1331" r="7"/><circle cx="2717" cy="1364" r="7"/>
</g>
<g font-size="52">
<text x="2810" y="1006">Z</text><text x="2854" y="1093">T</text><text x="2619" y="1098">U</text><text x="2729" y="1139">R</text>
<text x="2756" y="1284">Γ</text><text x="2817" y="1378">Y</text><text x="2637" y="1398">X</text><text x="2729" y="1424">S</text>
<text x="2545" y="1378">b<tspan font-size="34" dy="18">1</tspan></text>
<text x="2917" y="1375">b<tspan font-size="34" dy="18">2</tspan></text>
<text x="2791" y="919">b<tspan font-size="34" dy="15">3</tspan></text>
</g>
</svg>

<script>
(function(){
var pls=document.querySelectorAll('svg.band polyline');
for(var k=0;k<pls.length;k++){
 var pl=pls[k];
 var a=pl.getAttribute('points').trim().split(/\s+/);
 var p=[];for(var i=0;i<a.length;i++){var q=a[i].split(',');p.push([+q[0],+q[1]]);}
 if(p.length<3)continue;
 var d='M'+p[0][0]+' '+p[0][1];
 for(var i=0;i<p.length-1;i++){
  var p0=p[i>0?i-1:0],p1=p[i],p2=p[i+1],p3=p[i+2<p.length?i+2:i+1];
  d+=' C'+(p1[0]+(p2[0]-p0[0])/6).toFixed(1)+' '+(p1[1]+(p2[1]-p0[1])/6).toFixed(1)+' '+(p2[0]-(p3[0]-p1[0])/6).toFixed(1)+' '+(p2[1]-(p3[1]-p1[1])/6).toFixed(1)+' '+p2[0]+' '+p2[1];
 }
 var e=document.createElementNS('http://www.w3.org/2000/svg','path');
 e.setAttribute('d',d);
 pl.parentNode.replaceChild(e,pl);
}})();
</script>
</body></html>
